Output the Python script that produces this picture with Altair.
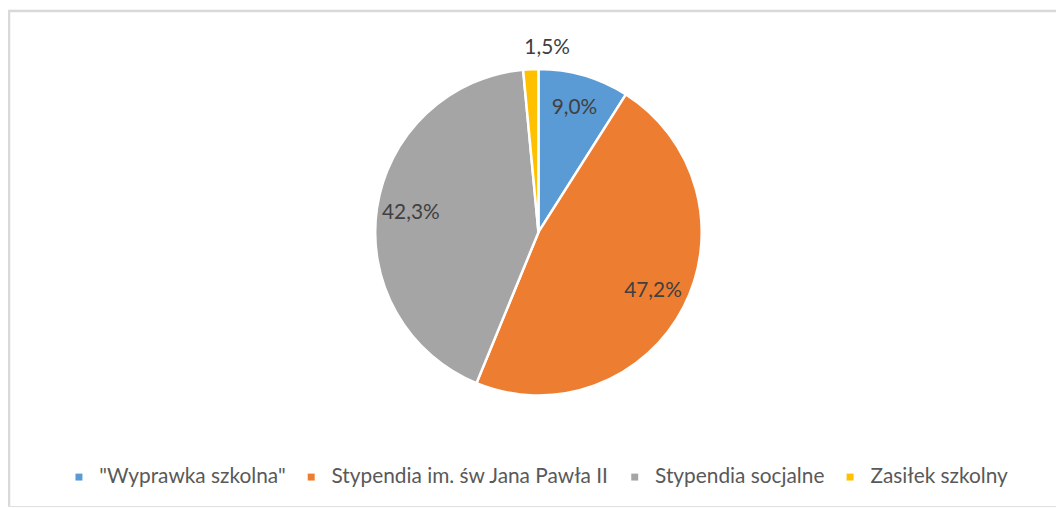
import altair as alt
import pandas as pd

categories = ['"Wyprawka szkolna"', "Stypendia im. św Jana Pawła II", "Stypendia socjalne", "Zasiłek szkolny"]
values = [9.0, 47.2, 42.3, 1.5]
labels = ["9,0%", "47,2%", "42,3%", "1,5%"]
colors = ["#5B9BD5", "#ED7D31", "#A5A5A5", "#FFC000"]

df = pd.DataFrame({"cat": categories, "value": values, "label": labels, "idx": list(range(len(values)))})

W, H = 1056, 500
CX, CY = 534.5, 224
FONT = "Lato"

base = alt.Chart(df).encode(
    theta=alt.Theta("value:Q", stack=True),
    order=alt.Order("idx:Q"),
    x=alt.value(CX),
    y=alt.value(CY),
)

pie = base.mark_arc(radius=164.5, stroke="white", strokeWidth=2.5).encode(
    color=alt.Color(
        "cat:N",
        scale=alt.Scale(domain=categories, range=colors),
        sort=categories,
        legend=alt.Legend(
            title=None,
            orient="none",
            direction="horizontal",
            legendX=61,
            legendY=460,
            symbolType="square",
            symbolSize=49,
            symbolStrokeWidth=0,
            labelFontSize=21,
            labelFont=FONT,
            labelColor="#595959",
            labelLimit=500,
            columnPadding=15,
            labelOffset=10,
        ),
    )
)

inner = base.transform_filter("datum.value >= 5").mark_text(
    radius=130, fontSize=21, font=FONT, color="#404040"
).encode(text="label:N")

outer = base.transform_filter("datum.value < 5").mark_text(
    radius=186, fontSize=21, font=FONT, color="#404040"
).encode(text="label:N")

border = pd.DataFrame({"k": [0]})
top_line = alt.Chart(border).mark_rule(color="#D9D9D9", strokeWidth=2.5).encode(
    x=alt.value(0), x2=alt.value(W), y=alt.value(1)
)
left_line = alt.Chart(border).mark_rule(color="#D9D9D9", strokeWidth=2.5).encode(
    x=alt.value(1), y=alt.value(0), y2=alt.value(H)
)

chart = alt.layer(top_line, left_line, pie, inner, outer).properties(
    width=W, height=H, autosize=alt.AutoSizeParams(type="none"), padding=0
).configure_view(stroke=None).configure(background="white")

chart.save("out.html", embed_options={"renderer": "svg", "actions": False})
